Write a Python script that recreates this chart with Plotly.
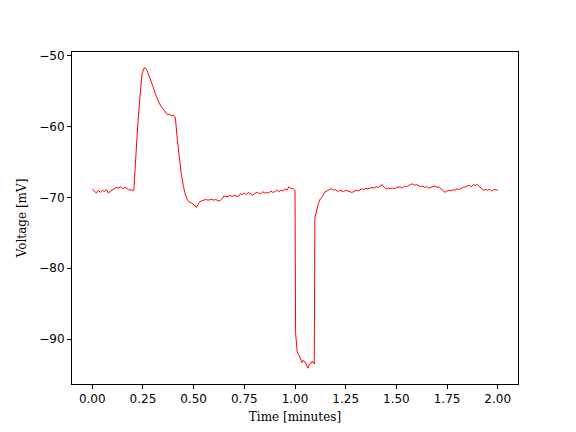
import plotly.graph_objects as go

# membrane voltage trace
time_min = [
    0.00, 0.01, 0.02, 0.03, 0.04, 0.05, 0.06, 0.07, 0.08, 0.09,
    0.10, 0.11, 0.12, 0.13, 0.14, 0.15, 0.16, 0.17, 0.18, 0.19,
    0.20, 0.205, 0.215, 0.225, 0.235, 0.245, 0.255, 0.26, 0.27, 0.28,
    0.29, 0.30, 0.31, 0.32, 0.33, 0.34, 0.35, 0.36, 0.37, 0.38,
    0.39, 0.40, 0.41, 0.42, 0.43, 0.44, 0.45, 0.46, 0.47, 0.48,
    0.49, 0.50, 0.51, 0.515, 0.52, 0.53, 0.54, 0.55, 0.56, 0.57,
    0.58, 0.59, 0.60, 0.61, 0.62, 0.63, 0.64, 0.65, 0.66, 0.67,
    0.68, 0.69, 0.70, 0.71, 0.72, 0.73, 0.74, 0.75, 0.76, 0.77,
    0.78, 0.79, 0.80, 0.81, 0.82, 0.83, 0.84, 0.85, 0.86, 0.87,
    0.88, 0.89, 0.90, 0.91, 0.92, 0.93, 0.94, 0.95, 0.96, 0.97,
    0.98, 0.99, 0.995, 1.000, 1.003, 1.006, 1.011, 1.02, 1.03, 1.035,
    1.04, 1.05, 1.06, 1.065, 1.07, 1.08, 1.085, 1.09, 1.095, 1.098,
    1.105, 1.115, 1.125, 1.135, 1.145, 1.16, 1.17, 1.18, 1.19, 1.20,
    1.21, 1.22, 1.23, 1.24, 1.25, 1.26, 1.27, 1.28, 1.29, 1.30,
    1.31, 1.32, 1.33, 1.34, 1.35, 1.36, 1.37, 1.38, 1.39, 1.40,
    1.41, 1.42, 1.43, 1.44, 1.45, 1.46, 1.47, 1.48, 1.49, 1.50,
    1.51, 1.52, 1.53, 1.54, 1.55, 1.56, 1.57, 1.58, 1.59, 1.60,
    1.61, 1.62, 1.63, 1.64, 1.65, 1.66, 1.67, 1.68, 1.69, 1.70,
    1.71, 1.72, 1.73, 1.74, 1.75, 1.76, 1.77, 1.78, 1.79, 1.80,
    1.81, 1.82, 1.83, 1.84, 1.85, 1.86, 1.87, 1.88, 1.89, 1.90,
    1.91, 1.92, 1.93, 1.94, 1.95, 1.96, 1.97, 1.98, 1.99, 2.00,
]
voltage_mv = [
    -68.8, -69.1, -69.4, -69.0, -69.3, -69.0, -69.2, -68.9, -69.4, -69.1,
    -68.9, -68.8, -68.6, -68.7, -68.5, -68.8, -68.6, -68.7, -69.0, -68.9,
    -69.1, -69.0, -63.5, -59.5, -56.0, -52.6, -51.8, -51.7, -52.1, -52.8,
    -53.6, -54.4, -55.3, -56.1, -56.7, -57.2, -57.6, -57.9, -58.3, -58.3,
    -58.5, -58.4, -58.8, -62.0, -64.5, -66.9, -68.5, -69.7, -70.4, -70.7,
    -70.8, -71.0, -71.2, -71.4, -71.1, -70.6, -70.5, -70.4, -70.3, -70.4,
    -70.3, -70.3, -70.4, -70.3, -70.5, -70.5, -70.2, -69.8, -69.9, -69.9,
    -69.7, -69.9, -69.7, -69.8, -69.9, -69.5, -69.6, -69.4, -69.6, -69.3,
    -69.5, -69.7, -69.5, -69.3, -69.4, -69.5, -69.2, -69.4, -69.3, -69.4,
    -69.1, -69.3, -69.2, -69.0, -69.2, -69.0, -69.1, -68.8, -69.0, -68.5,
    -68.8, -68.7, -68.9, -69.0, -89.2, -90.6, -91.8, -92.3, -93.0, -93.3,
    -93.0, -93.2, -93.9, -94.1, -93.6, -93.4, -93.1, -93.3, -93.5, -72.9,
    -71.9, -70.9, -70.2, -69.9, -69.3, -69.0, -68.9, -68.8, -69.0, -68.9,
    -69.2, -69.0, -69.1, -69.2, -69.0, -69.1, -69.2, -69.3, -69.2, -69.0,
    -69.1, -68.9, -68.8, -68.9, -68.7, -68.8, -68.7, -68.6, -68.7, -68.5,
    -68.6, -68.4, -68.2, -68.6, -68.8, -68.7, -68.8, -68.7, -68.8, -68.6,
    -68.5, -68.5, -68.7, -68.4, -68.5, -68.3, -68.2, -68.1, -68.3, -68.2,
    -68.4, -68.5, -68.4, -68.6, -68.5, -68.7, -68.6, -68.5, -68.4, -68.6,
    -68.5, -68.8, -69.0, -69.3, -69.1, -69.0, -69.1, -68.9, -69.0, -68.8,
    -68.9, -68.7, -68.6, -68.5, -68.4, -68.3, -68.5, -68.2, -68.3, -68.2,
    -68.5, -68.7, -69.0, -68.9, -69.0, -68.9, -69.1, -68.9, -69.0, -69.0,
]

fig = go.Figure()
fig.add_trace(go.Scatter(
    x=time_min, y=voltage_mv, mode='lines',
    line=dict(color='red', width=1),
    showlegend=False,
))

axis_style = dict(
    showline=True, linecolor='black', linewidth=1, mirror=True,
    ticks='outside', ticklen=4, tickwidth=1, tickcolor='black',
    showgrid=False, zeroline=False, automargin=False,
    tickfont=dict(family='DejaVu Sans', size=12, color='black'),
)

# the page body adds an 8px offset, so the figure is 16px smaller
fig.update_layout(
    width=560, height=416,
    margin=dict(l=64, r=50, t=44, b=40, autoexpand=False),
    paper_bgcolor='white', plot_bgcolor='white',
    xaxis=dict(
        range=[-0.1, 2.1], dtick=0.25, tick0=0, tickformat='.2f',
        title=dict(text='Time [minutes]', standoff=9,
                   font=dict(family='DejaVu Serif', size=12, color='black')),
        **axis_style,
    ),
    yaxis=dict(
        range=[-96.33, -49.5], dtick=10, tick0=-50,
        title=dict(text='Voltage [mV]', standoff=10,
                   font=dict(family='DejaVu Serif', size=12, color='black')),
        **axis_style,
    ),
)

fig.write_html("out.html")
